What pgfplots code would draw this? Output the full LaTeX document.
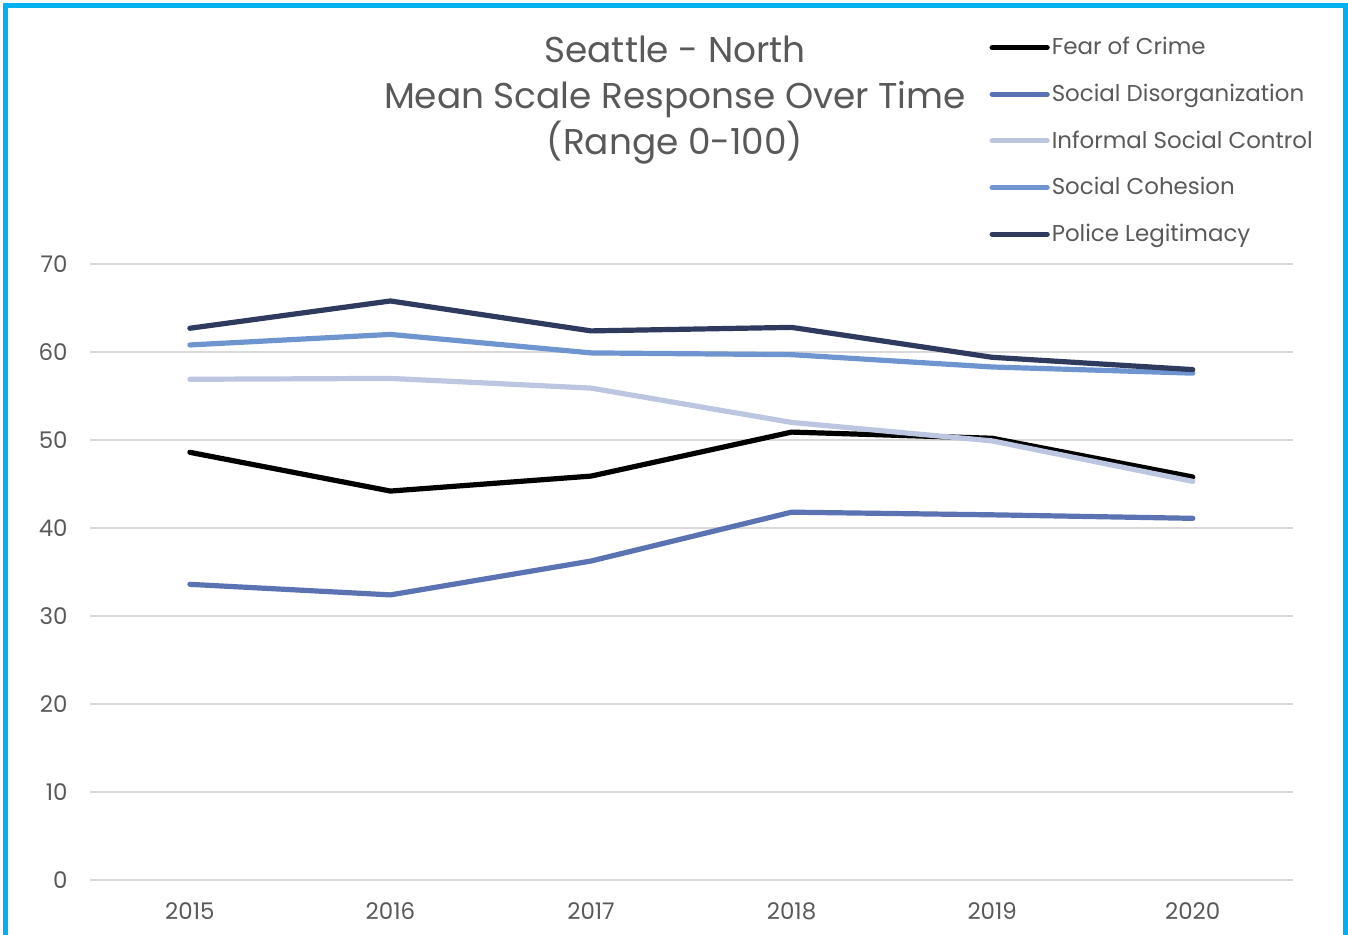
\documentclass[border=0pt]{standalone}
\usepackage{fontspec}
\setmainfont{Poppins}
\usepackage{pgfplots}
\pgfplotsset{compat=1.18}
\definecolor{txt}{HTML}{595959}
\definecolor{grd}{HTML}{D9D9D9}
\definecolor{frame}{HTML}{00B0F0}
\definecolor{cFear}{HTML}{000000}
\definecolor{cDis}{HTML}{5B72B3}
\definecolor{cInf}{HTML}{BCC6E0}
\definecolor{cCoh}{HTML}{6F95D0}
\definecolor{cPol}{HTML}{2E3A5E}
\begin{document}
\begin{tikzpicture}[x=1bp,y=1bp]
\useasboundingbox (0,0) rectangle (674,-467.5);
\begin{scope}
\clip (0,0) rectangle (674,-467.5);
\draw[frame, line width=2.5bp] (2.9,-480) -- (2.9,-2.9) -- (672.7,-2.9) -- (672.7,-480);
\end{scope}
\node[text=txt, align=center, font=\fontsize{18}{23}\selectfont] at (337.5,-50) {Seattle - North\\Mean Scale Response Over Time\\(Range 0-100)};
\begin{axis}[
  at={(44.8bp,-440bp)}, anchor=south west,
  scale only axis, width=601.7bp, height=308bp,
  xmin=-0.5, xmax=5.5, ymin=0, ymax=70,
  xtick={0,1,2,3,4,5},
  xticklabels={2015,2016,2017,2018,2019,2020},
  ytick={0,10,20,30,40,50,60,70},
  ymajorgrids, grid style={grd, line width=0.9bp},
  axis line style={draw=none},
  major tick length=0pt,
  tick label style={text=txt, font=\fontsize{11.5}{13}\selectfont},
  /pgf/number format/assume math mode=true,
  yticklabel style={xshift=-7.5bp},
  xticklabel style={yshift=-8bp},
  clip=false,
  legend style={at={(0.7475,1.372)}, anchor=north west, draw=none, fill=none,
    font=\fontsize{11.5}{13}\selectfont, text=txt,
    row sep=11.1bp, inner sep=0pt,
    nodes={inner sep=1bp, anchor=west}},
  legend cell align=left,
  legend image code/.code={\draw[#1, line cap=round] (0bp,0bp) -- (27.5bp,0bp);},
  every axis plot/.append style={line width=2.6bp, line cap=round, line join=round, mark=none},
]
\addplot[cFear] coordinates {(0,48.6) (1,44.2) (2,45.9) (3,50.9) (4,50.2) (5,45.8)};
\addlegendentry{Fear of Crime}
\addplot[cDis] coordinates {(0,33.6) (1,32.4) (2,36.25) (3,41.8) (4,41.5) (5,41.1)};
\addlegendentry{Social Disorganization}
\addplot[cInf] coordinates {(0,56.9) (1,57.0) (2,55.9) (3,52.0) (4,49.9) (5,45.3)};
\addlegendentry{Informal Social Control}
\addplot[cCoh] coordinates {(0,60.8) (1,62.0) (2,59.9) (3,59.7) (4,58.3) (5,57.6)};
\addlegendentry{Social Cohesion}
\addplot[cPol] coordinates {(0,62.7) (1,65.8) (2,62.4) (3,62.8) (4,59.4) (5,58.0)};
\addlegendentry{Police Legitimacy}
\end{axis}
\end{tikzpicture}
\end{document}
